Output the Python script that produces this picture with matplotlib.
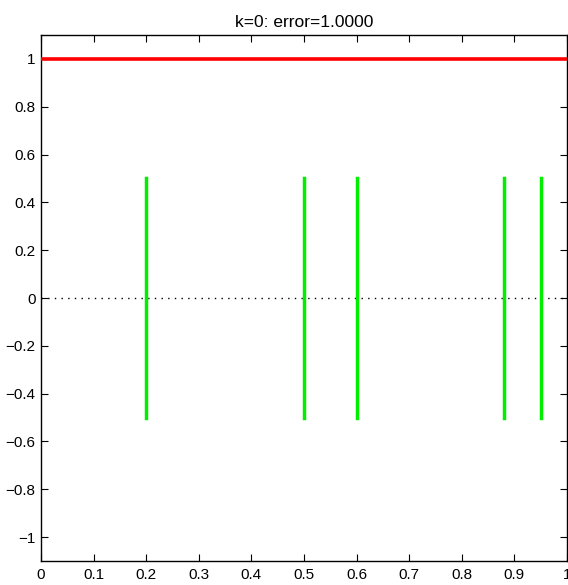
import numpy as np
import matplotlib
matplotlib.use("Agg")
import matplotlib.pyplot as plt

# spike positions and heights
spike_x = [0.2, 0.5, 0.6, 0.88, 0.95]
spike_lo = -0.5
spike_hi = 0.5
error_level = 1.0
title_text = "k=0: error=1.0000"

xticks = [0, 0.1, 0.2, 0.3, 0.4, 0.5, 0.6, 0.7, 0.8, 0.9, 1]
yticks = [-1, -0.8, -0.6, -0.4, -0.2, 0, 0.2, 0.4, 0.6, 0.8, 1]

plt.rcParams['font.family'] = ['Liberation Sans', 'DejaVu Sans']

def fmt(v):
    s = f'{v:g}'
    return s.replace('-', '\u2212')

fig = plt.figure(figsize=(5.68, 5.85), dpi=100)
W, H = 568, 585
ax = fig.add_axes([41 / W, 1 - 561 / H, (567 - 41) / W, (561 - 35) / H])

ax.axhline(0, color='black', linestyle=(0, (1, 3.8)), linewidth=1.0, zorder=1)
ax.axhline(error_level, color='#ff0000', linewidth=2.6, zorder=3)
for x in spike_x:
    ax.plot([x, x], [spike_lo, spike_hi], color='#00ee00', linewidth=2.5, zorder=2)

ax.set_xlim(0, 1)
ax.set_ylim(-1.1, 1.1)
ax.set_xticks(xticks)
ax.set_yticks(yticks)
ax.set_xticklabels([fmt(v) for v in xticks])
ax.set_yticklabels([fmt(v) for v in yticks])
ax.tick_params(direction='in', length=5, width=0.8, labelsize=11, top=True, right=True)
ax.tick_params(axis='y', pad=4)
ax.tick_params(axis='x', pad=5)
for s in ax.spines.values():
    s.set_linewidth(1.0)
ax.set_title(title_text, fontsize=12.5, pad=6)

fig.savefig("out.png", dpi=100)
